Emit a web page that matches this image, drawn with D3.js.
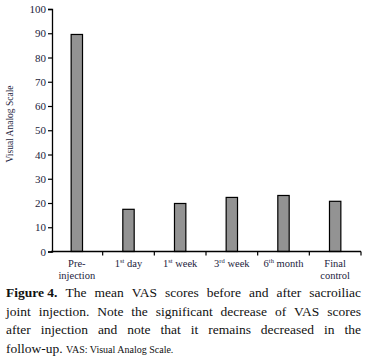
<!DOCTYPE html>
<html><head><meta charset="utf-8">
<script src="https://cdn.jsdelivr.net/npm/d3@7"></script>
<style>body{margin:0;background:#fff}svg{display:block}</style>
</head><body>
<svg id="c" width="365" height="358"></svg>
<script>
const categories = [["Pre-","injection"],["1|st| day"],["1|st| week"],["3|rd| week"],["6|th| month"],["Final","control"]];
const values = [89.5, 17.4, 19.8, 22.3, 23.1, 20.7];
const yTicks = [0,10,20,30,40,50,60,70,80,90,100];
const yLabel = "Visual Analog Scale";

const svg = d3.select("#c");
const font = "'Liberation Serif', 'Times New Roman', serif";
const txt = "#1c1c3c";
const x = d3.scaleBand().domain(d3.range(values.length)).range([51, 361]).paddingInner(0.78).paddingOuter(0.39);
const y = d3.scaleLinear().domain([0,100]).range([251.5, 9]);

// bars
svg.selectAll("rect.bar").data(values).join("rect")
  .attr("x",(d,i)=>x(i)).attr("width",x.bandwidth())
  .attr("y",d=>y(d)).attr("height",d=>y(0)-y(d))
  .attr("fill","#939393").attr("stroke","#000").attr("stroke-width",1.2);

// y axis
const ya = svg.append("g").attr("transform","translate(52,0)")
  .call(d3.axisLeft(y).tickValues(yTicks).tickSize(4).tickPadding(2));
ya.select(".domain").attr("stroke","#000").attr("stroke-width",1.3);
ya.selectAll(".tick line").attr("stroke","#000").attr("stroke-width",1.2);
ya.selectAll(".tick text").attr("font-family",font).attr("font-size",11).attr("fill",txt);

// x axis
const xa = svg.append("g").attr("transform",`translate(0,${y(0)})`);
const step = x.step();
const bounds = d3.range(values.length+1).map(i=>51 + i*step);
xa.append("line").attr("x1",51).attr("x2",361).attr("stroke","#000").attr("stroke-width",1.3);
xa.selectAll("line.t").data(bounds.slice(1)).join("line")
  .attr("x1",d=>d).attr("x2",d=>d).attr("y1",0).attr("y2",4).attr("stroke","#000").attr("stroke-width",1.2);
categories.forEach((lines,i)=>{
  const cx = x(i)+x.bandwidth()/2;
  lines.forEach((ln,j)=>{
    const t = xa.append("text").attr("x",cx).attr("y",15+j*12.5).attr("text-anchor","middle")
      .attr("font-family",font).attr("font-size",10.5).attr("fill",txt);
    const parts = ln.split("|");
    if(parts.length===1){ t.text(ln); }
    else {
      t.append("tspan").text(parts[0]);
      t.append("tspan").text(parts[1]).attr("font-size",6.5).attr("dy",-4);
      t.append("tspan").text(parts[2]).attr("dy",4);
    }
  });
});

// y label
svg.append("text").attr("transform","translate(13,124) rotate(-90)").attr("text-anchor","middle")
  .attr("font-family",font).attr("font-size",9.5).attr("fill",txt).text(yLabel);

// caption
const capLines = [
  [{t:"Figure 4.",b:true},{t:"The"},{t:"mean"},{t:"VAS"},{t:"scores"},{t:"before"},{t:"and"},{t:"after"},{t:"sacroiliac"}],
  [{t:"joint"},{t:"injection."},{t:"Note"},{t:"the"},{t:"significant"},{t:"decrease"},{t:"of"},{t:"VAS"},{t:"scores"}],
  [{t:"after"},{t:"injection"},{t:"and"},{t:"note"},{t:"that"},{t:"it"},{t:"remains"},{t:"decreased"},{t:"in"},{t:"the"}],
];
const capY = [297, 315.5, 334];
const L = 6, R = 361;
capLines.forEach((words,li)=>{
  const nodes = words.map(w=>svg.append("text").attr("y",capY[li]).attr("font-family",font)
    .attr("font-size",13.5).attr("font-weight",w.b?"bold":"normal").attr("fill","#111").text(w.t));
  const widths = nodes.map(n=>n.node().getComputedTextLength());
  const total = d3.sum(widths);
  const gap = (R-L-total)/(nodes.length-1);
  let cx = L;
  nodes.forEach((n,k)=>{ n.attr("x",cx); cx += widths[k]+gap; });
});
const last = svg.append("text").attr("x",L).attr("y",352.5).attr("font-family",font).attr("fill","#111");
last.append("tspan").attr("font-size",13.5).text("follow-up. ");
last.append("tspan").attr("font-size",10).text("VAS: Visual Analog Scale.");
</script>
</body></html>
